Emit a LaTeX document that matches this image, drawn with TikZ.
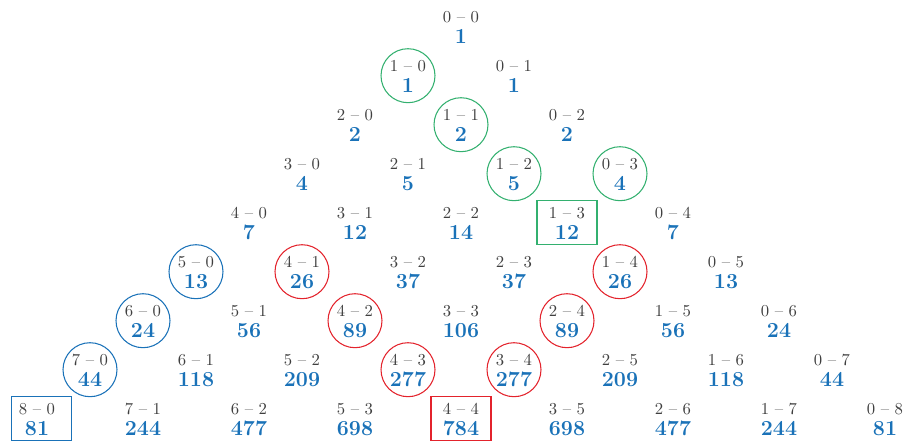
\documentclass[tikz,border=0pt]{standalone}
\usepackage{tikz}
\definecolor{scoreBlue}{HTML}{1A72B8}
\definecolor{scoreGray}{HTML}{3F3F3F}
\definecolor{ringGreen}{HTML}{33B06F}
\definecolor{ringRed}{HTML}{E3232C}

\begin{document}
\begin{tikzpicture}[x=0.02cm,y=-0.02cm,
  lab/.style={anchor=base,inner sep=0pt,text=scoreGray,font=\fontsize{9.5}{9.5}\selectfont},
  num/.style={anchor=base,inner sep=0pt,text=scoreBlue,font=\fontsize{12.2}{12.2}\selectfont\bfseries},
  scorering/.style={draw=#1,line width=0.6pt,circle,inner sep=0pt,minimum size=1.08cm},
  scorebox/.style={draw=#1,line width=0.6pt,rectangle,inner sep=0pt,minimum width=1.2cm,minimum height=0.88cm}]
\useasboundingbox (0,0) rectangle (906,443);
% triangle of results: row r holds (r-k) -- k for k=0..r
\foreach \r/\vals in {0/{1},1/{1,1},2/{2,2,2},3/{4,5,5,4},4/{7,12,14,12,7},
  5/{13,26,37,37,26,13},6/{24,56,89,106,89,56,24},7/{44,118,209,277,277,209,118,44},
  8/{81,244,477,698,784,698,477,244,81}}{
  \foreach \n [count=\k from 0] in \vals {
    \pgfmathsetmacro\xx{461+(2*\k-\r)*53}
    \pgfmathsetmacro\yy{26.7+\r*49}
    \pgfmathtruncatemacro\a{\r-\k}
    \coordinate (e-\r-\k) at (\xx,\yy);
    \node[lab] (l-\r-\k) at (\xx,\yy-4) {\a\ -- \k};
    \node[num] (n-\r-\k) at (\xx,\yy+16.6) {\n};
  }
}
% green: one team at 1
\foreach \r/\k in {1/0,2/1,3/2,3/3}
  \node[scorering=ringGreen] (g-\r-\k) at (e-\r-\k) {};
\node[scorebox=ringGreen] (gb) at (e-4-3) {};
% blue: other team at 0
\foreach \r in {5,6,7}
  \node[scorering=scoreBlue] (b-\r) at (e-\r-0) {};
\node[scorebox=scoreBlue] (bb) at ([xshift=2.5]e-8-0) {};
% red: one team at 4
\foreach \r/\k in {5/1,6/2,7/3,7/4,6/4,5/4}
  \node[scorering=ringRed] (r-\r-\k) at (e-\r-\k) {};
\node[scorebox=ringRed] (rb) at (e-8-4) {};
\end{tikzpicture}
\end{document}
